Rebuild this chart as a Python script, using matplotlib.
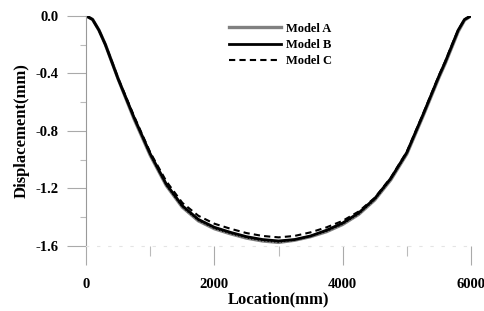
import matplotlib.pyplot as plt
import numpy as np
from matplotlib.ticker import MultipleLocator

# location along the member (mm)
location = [0, 100, 200, 300, 400, 500, 750, 1000, 1250, 1500, 1750, 2000, 2250, 2500, 2750, 3000,
            3250, 3500, 3750, 4000, 4250, 4500, 4750, 5000, 5250, 5500, 5600, 5700, 5800, 5900, 6000]

# displacement (mm)
model_a = [0.0, -0.025, -0.10, -0.20, -0.32, -0.44, -0.72, -0.97, -1.18, -1.33, -1.425, -1.48, -1.515, -1.545, -1.565, -1.575,
           -1.56, -1.535, -1.50, -1.45, -1.38, -1.28, -1.14, -0.96, -0.70, -0.43, -0.33, -0.22, -0.11, -0.03, 0.0]
model_b = [0.0, -0.025, -0.10, -0.20, -0.32, -0.44, -0.71, -0.96, -1.17, -1.32, -1.415, -1.47, -1.505, -1.535, -1.555, -1.565,
           -1.555, -1.53, -1.49, -1.44, -1.37, -1.27, -1.13, -0.95, -0.69, -0.42, -0.32, -0.21, -0.10, -0.025, 0.0]
model_c = [0.0, -0.025, -0.10, -0.20, -0.315, -0.435, -0.70, -0.95, -1.15, -1.30, -1.39, -1.445, -1.48, -1.51, -1.53, -1.54,
           -1.53, -1.505, -1.47, -1.425, -1.36, -1.265, -1.125, -0.945, -0.685, -0.415, -0.315, -0.205, -0.10, -0.025, 0.0]

plt.rcParams['font.family'] = ['Liberation Serif', 'DejaVu Serif']
plt.rcParams['font.weight'] = 'bold'

fig = plt.figure(figsize=(4.84, 3.11), dpi=100)
ax = fig.add_axes([0.178, 0.209, 0.795, 0.740])

ax.plot(location, model_a, color='#808080', lw=2.4, label='Model A')
ax.plot(location, model_a, color='black', lw=0.8, ls=(0, (1, 2)))
ax.plot(location, model_b, color='black', lw=2.0, label='Model B')
ax.plot(location, model_c, color='black', lw=1.5, ls=(0, (3, 2)), label='Model C')

ax.set_xlim(0, 6000)
ax.set_ylim(-1.6, 0.0)
ax.xaxis.set_major_locator(MultipleLocator(2000))
ax.xaxis.set_minor_locator(MultipleLocator(1000))
ax.yaxis.set_major_locator(MultipleLocator(0.4))
ax.yaxis.set_minor_locator(MultipleLocator(0.2))
ax.yaxis.set_major_formatter(plt.FormatStrFormatter('%.1f'))

for s in ['top', 'right']:
    ax.spines[s].set_visible(False)
ax.spines['left'].set_color('#999999')
ax.spines['bottom'].set_color('#e4e4e4')
ax.spines['bottom'].set_linestyle((0, (2, 8)))

ax.tick_params(axis='both', which='major', direction='out', length=14, width=0.8,
               color='#aaaaaa', labelsize=10.5)
ax.tick_params(axis='both', which='minor', direction='out', length=4, width=0.8, color='#bbbbbb')
ax.tick_params(axis='x', which='minor', length=7)
ax.tick_params(axis='x', which='major', pad=9)
ax.tick_params(axis='y', which='major', pad=6)

ax.set_xlabel('Location(mm)', fontsize=12, fontweight='bold', labelpad=0)
ax.set_ylabel('Displacement(mm)', fontsize=12, fontweight='bold', labelpad=4)

ax.legend(loc='upper left', bbox_to_anchor=(0.355, 0.998), frameon=False, fontsize=9,
          handlelength=4.2, labelspacing=0.35, handletextpad=0.4, borderpad=0)

plt.savefig('out.png', dpi=100)
